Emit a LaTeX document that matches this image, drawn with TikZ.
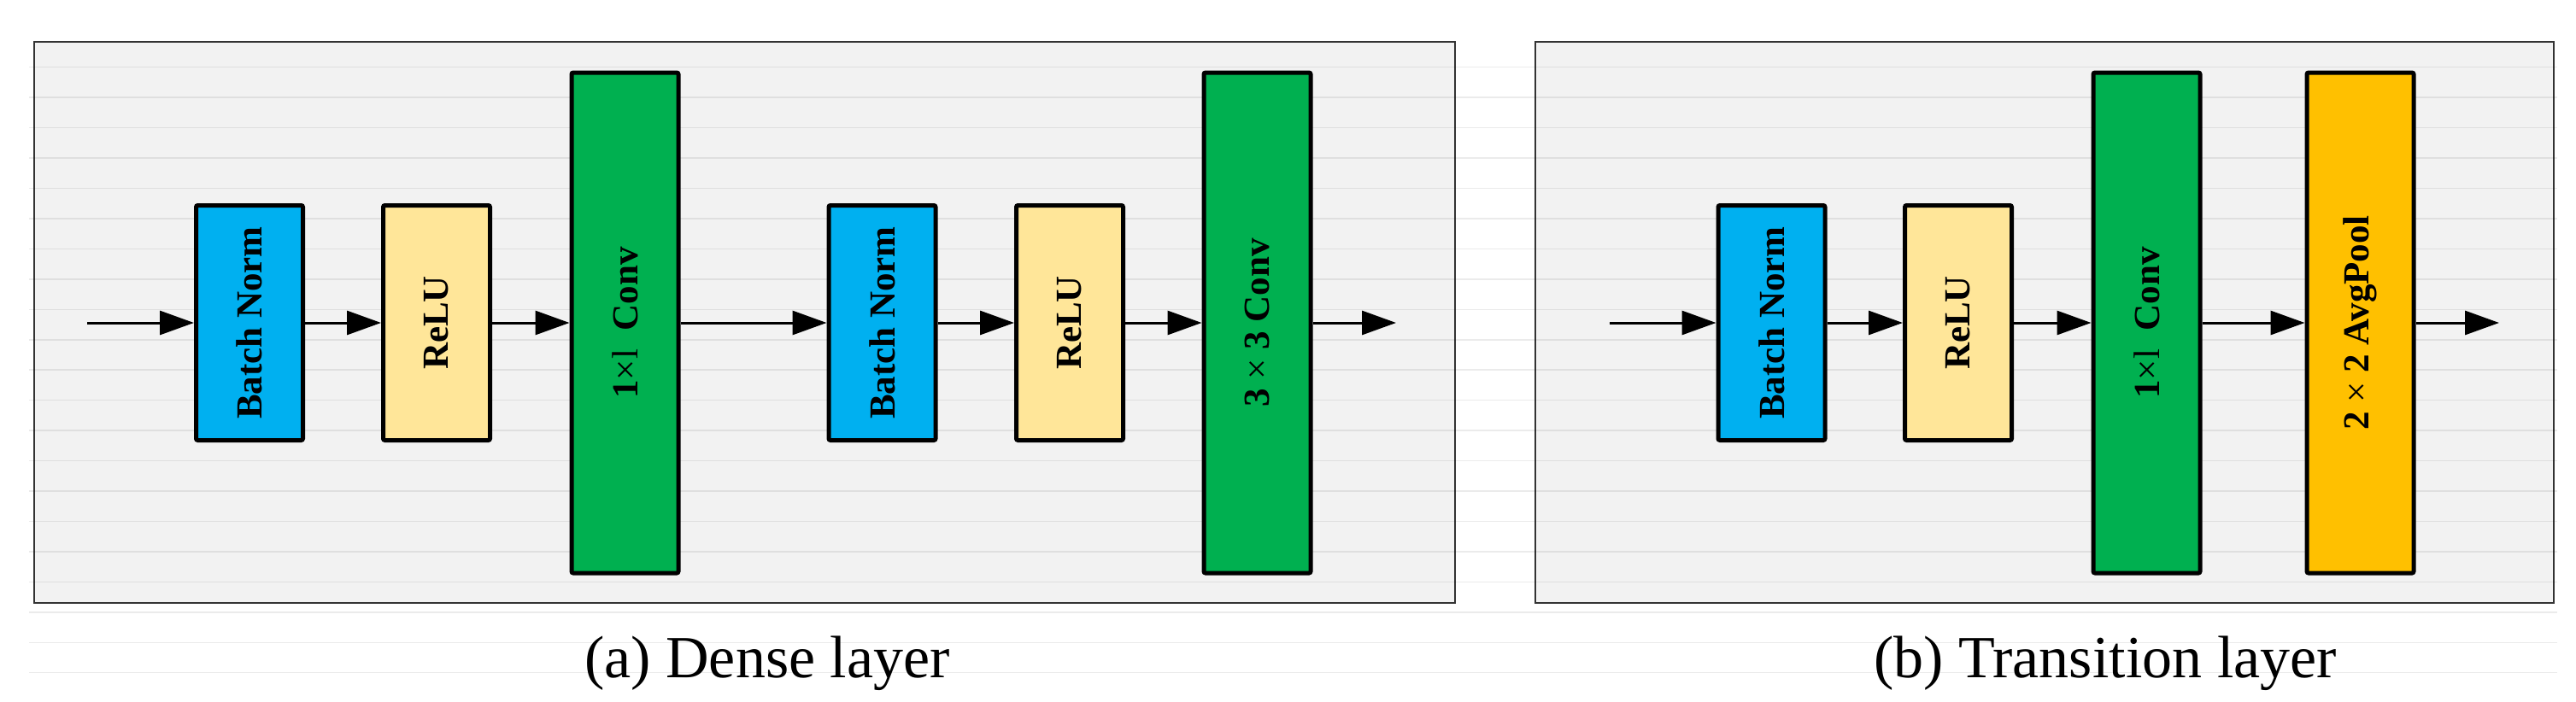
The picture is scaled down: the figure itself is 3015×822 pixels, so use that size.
\documentclass[tikz,border=0pt]{standalone}
\usepackage{fontspec}
\setmainfont{Liberation Serif}
\usetikzlibrary{arrows.meta}
\definecolor{panelgray}{HTML}{F2F2F2}
\definecolor{bnblue}{HTML}{00B0F0}
\definecolor{reluyellow}{HTML}{FFE699}
\definecolor{convgreen}{HTML}{00B050}
\definecolor{poolorange}{HTML}{FFC000}
\begin{document}
\begin{tikzpicture}[x=1pt,y=-1pt,
  layerbox/.style={draw=black, line width=5pt, rounded corners=2pt, minimum width=125pt, inner sep=0pt,
    font=\fontsize{43}{43}\selectfont\bfseries},
  smallbox/.style={layerbox, minimum height=275pt},
  tallbox/.style={layerbox, minimum height=586pt},
  flow/.style={line width=3pt, -{Triangle[length=40pt,width=28pt]}},
  panel/.style={draw=black!80, fill=panelgray, line width=2pt},
  bgline/.style={line width=1.5pt, draw=black, draw opacity=0.08},
  captext/.style={font=\fontsize{70}{70}\selectfont, anchor=base, inner sep=0pt}
]
\path[fill=white] (0,0) rectangle (3015,822);
\useasboundingbox (0,0) rectangle (3015,822);

% panels
\draw[panel] (40,49) rectangle (1703,706);
\draw[panel] (1797,49) rectangle (2989,706);

% faint ruled lines
\foreach \k in {0,...,20}{
  \draw[bgline] (34,78.7+35.45*\k) -- (2993,78.7+35.45*\k);
}

% (a) Dense layer
\coordinate (ain) at (102,378);
\node[smallbox, fill=bnblue] (abn1) at (292,378) {\rotatebox{90}{Batch Norm}};
\node[smallbox, fill=reluyellow] (arelu1) at (511,378) {\rotatebox{90}{ReLU}};
\node[tallbox, fill=convgreen] (aconv1) at (731.5,378) {\rotatebox{90}{1{\mdseries\texttimes l}\ \ Conv}};
\node[smallbox, fill=bnblue] (abn2) at (1032.5,378) {\rotatebox{90}{Batch Norm}};
\node[smallbox, fill=reluyellow] (arelu2) at (1252,378) {\rotatebox{90}{ReLU}};
\node[tallbox, fill=convgreen] (aconv3) at (1471.5,378) {\rotatebox{90}{3 {\mdseries\texttimes} 3 Conv}};
\coordinate (aout) at (1634,378);

\draw[flow] (ain) -- (abn1);
\draw[flow] (abn1) -- (arelu1);
\draw[flow] (arelu1) -- (aconv1);
\draw[flow] (aconv1) -- (abn2);
\draw[flow] (abn2) -- (arelu2);
\draw[flow] (arelu2) -- (aconv3);
\draw[flow] (aconv3) -- (aout);

% (b) Transition layer
\coordinate (bin) at (1884,378);
\node[smallbox, fill=bnblue] (bbn) at (2073.5,378) {\rotatebox{90}{Batch Norm}};
\node[smallbox, fill=reluyellow] (brelu) at (2292,378) {\rotatebox{90}{ReLU}};
\node[tallbox, fill=convgreen] (bconv) at (2512.5,378) {\rotatebox{90}{1{\mdseries\texttimes l}\ \ Conv}};
\node[tallbox, fill=poolorange] (bpool) at (2762.5,378) {\rotatebox{90}{2 {\mdseries\texttimes} 2 AvgPool}};
\coordinate (bout) at (2925,378);

\draw[flow] (bin) -- (bbn);
\draw[flow] (bbn) -- (brelu);
\draw[flow] (brelu) -- (bconv);
\draw[flow] (bconv) -- (bpool);
\draw[flow] (bpool) -- (bout);

% captions
\node[captext] (capa) at (898,793) {(a) Dense layer};
\node[captext] (capb) at (2464,793) {(b) Transition layer};
\end{tikzpicture}
\end{document}
